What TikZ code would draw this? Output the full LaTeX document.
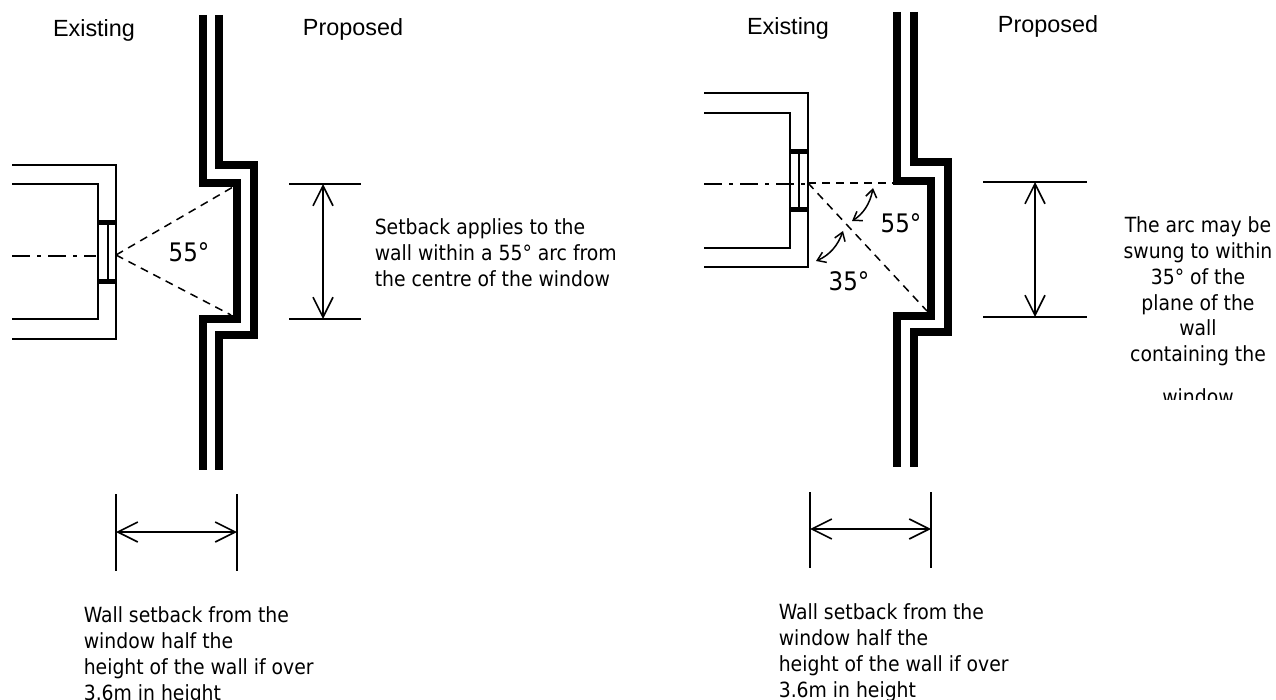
\documentclass[tikz,border=0pt]{standalone}
\usepackage{fontspec}
\setmainfont{DejaVu Sans Condensed}
\newfontfamily\labelfont{Liberation Sans}
\usepackage{tikz}
\usetikzlibrary{arrows.meta}

\begin{document}
\begin{tikzpicture}[x=1pt,y=-1pt,line width=1.6pt,
    wall/.style={line width=7.6pt,miter limit=10},
    bar/.style={line width=5pt},
    sight/.style={line width=1.5pt,dash pattern=on 8pt off 6pt},
    axis/.style={line width=1.5pt,dash pattern=on 18pt off 7pt on 4pt off 7pt},
    span/.style={{Straight Barb[length=20pt,width=20pt]}-{Straight Barb[length=20pt,width=20pt]}},
    swing/.style={{Straight Barb[length=8pt,width=11pt]}-{Straight Barb[length=8pt,width=11pt]},line width=1.5pt},
    note/.style={inner sep=0pt,anchor=north west,align=left,font=\fontsize{20.9}{25.8}\selectfont},
    side/.style={inner sep=0pt,anchor=base,font=\labelfont\fontsize{23.4}{26}\selectfont},
    angle/.style={inner sep=0pt,font=\fontsize{25.5}{30}\selectfont}]
    \useasboundingbox (0, 0) rectangle (1276, 700);
    % left
    \node [side] (existingA) at (94, 37) {Existing};
    \node [side] (proposedA) at (353, 36) {Proposed};
    \draw [wall](203, 15) -- (203, 183) -- (237, 183) -- (237, 319) -- (203, 319) -- (203, 470);
    \draw [wall](219, 15) -- (219, 165) -- (254, 165) -- (254, 335) -- (219, 335) -- (219, 470);
    \draw (12, 165) -- (116, 165) -- (116, 281) -- (116, 339) -- (12, 339);
    \draw (12, 184) -- (98, 184) -- (98, 319) -- (12, 319);
    \draw (108, 223) -- (108, 281);
    \draw [bar](98, 222.5) -- (116, 222.5);
    \draw [bar](98, 281.5) -- (116, 281.5);
    \draw [axis](12, 256) -- (96, 256);
    \draw [sight](116, 255) -- (233, 187);
    \draw [sight](116, 255) -- (231, 315);
    \node [angle] (angleA) at (189, 252) {55°};
    \draw (289, 184) -- (361, 184);
    \draw (289, 319) -- (361, 319);
    \draw [span](323, 184) -- (323, 319);
    \draw (116, 494) -- (116, 571);
    \draw (237, 494) -- (237, 571);
    \draw [span](116, 532) -- (237, 532);
    \node [note] (setback) at (374, 218) {Setback applies to the\\wall within a 55° arc from\\the centre of the window};
    \node [note] (heightA) at (83, 606) {Wall setback from the\\window half the\\height of the wall if over\\3.6m in height};
    % right
    \node [side] (existingB) at (788, 35) {Existing};
    \node [side] (proposedB) at (1048, 33) {Proposed};
    \draw [wall](897, 12) -- (897, 181) -- (931, 181) -- (931, 316) -- (897, 316) -- (897, 467);
    \draw [wall](914, 12) -- (914, 162) -- (948, 162) -- (948, 332) -- (914, 332) -- (914, 467);
    \draw (704, 93) -- (808, 93) -- (808, 267) -- (704, 267);
    \draw (704, 113) -- (790, 113) -- (790, 248) -- (704, 248);
    \draw (799, 152) -- (799, 209);
    \draw [bar](790, 151.5) -- (808, 151.5);
    \draw [bar](790, 209.5) -- (808, 209.5);
    \draw [axis](704, 184) -- (808, 184);
    \draw [sight](808, 183) -- (896, 183);
    \draw [sight](808, 183) -- (927, 311);
    \draw [swing](873, 188) .. controls (870, 204) and (863, 214) .. (852, 221);
    \draw [swing](843, 231) .. controls (838, 245) and (830, 255) .. (816, 261);
    \node [angle] (angleB) at (901, 223) {55°};
    \node [angle] (angleC) at (849, 281) {35°};
    \draw (983, 182) -- (1087, 182);
    \draw (983, 317) -- (1087, 317);
    \draw [span](1035, 182) -- (1035, 317);
    \draw (810, 492) -- (810, 568);
    \draw (931, 492) -- (931, 568);
    \draw [span](810, 529) -- (931, 529);
    \node [note,align=center,anchor=north] (swung) at (1198, 216) {The arc may be\\swung to within\\35° of the\\plane of the\\wall\\containing the};
    \begin{scope}
        \clip (1100, 380) rectangle (1276, 399);
        \node [note,align=center,anchor=north] (windowB) at (1198, 388) {window};
    \end{scope}
    \node [note] (heightB) at (778, 603) {Wall setback from the\\window half the\\height of the wall if over\\3.6m in height};
\end{tikzpicture}
\end{document}
